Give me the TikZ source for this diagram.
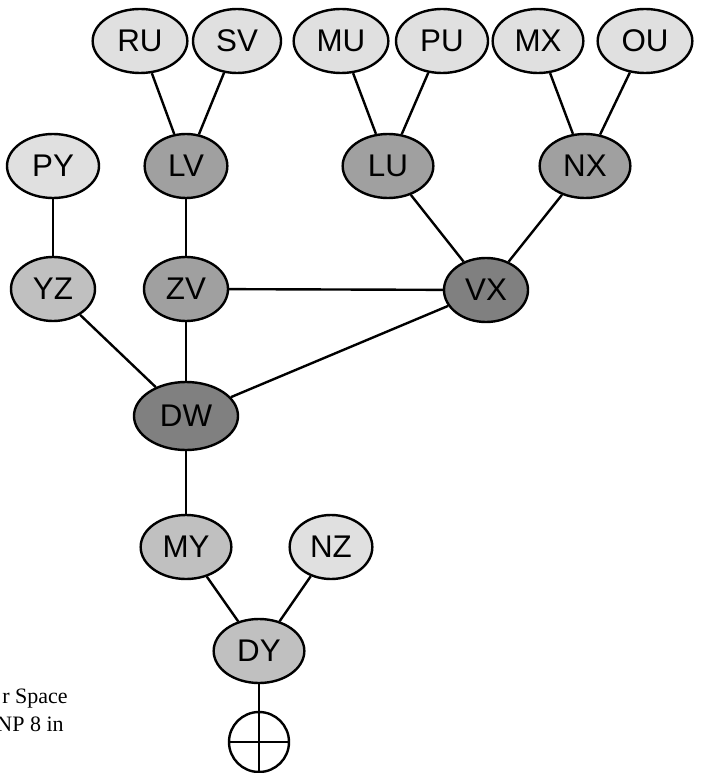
\documentclass[tikz,border=0pt]{standalone}
\usepackage{fontspec}
\setmainfont{Liberation Serif}
\newfontfamily\nodefont{Liberation Sans}
\usepackage{xcolor}
\usetikzlibrary{shapes.geometric}
\definecolor{leafgray}{RGB}{224,224,224}
\definecolor{lowgray}{RGB}{192,192,192}
\definecolor{midgray}{RGB}{160,160,160}
\definecolor{hubgray}{RGB}{128,128,128}
\tikzset{
  base-node/.style={ellipse, draw=black, line width=1.8pt, minimum width=68pt,
    minimum height=48pt, inner sep=0pt, font=\nodefont\fontsize{23.5}{26}\selectfont},
  leaf-node/.style={base-node, fill=leafgray},
  low-node/.style={base-node, fill=lowgray},
  mid-node/.style={base-node, fill=midgray},
  hub-node/.style={base-node, fill=hubgray},
  sink-node/.style={circle, draw=black, line width=1.8pt, minimum size=45pt, inner sep=0pt},
  link-line/.style={line width=1.8pt, draw=black},
  note-text/.style={font=\fontsize{16.5}{19}\selectfont, inner sep=0pt, anchor=base east}
}

\begin{document}
\begin{tikzpicture}[x=0.75pt, y=-0.75pt]
\useasboundingbox (0,0) rectangle (702,773);
\clip (0,0) rectangle (702,773);

% Top row
\node[leaf-node, minimum width=71pt] (RU) at (140,41) {RU};
\node[leaf-node, minimum width=66pt] (SV) at (237,41) {SV};
\node[leaf-node, minimum width=71pt] (MU) at (341,41) {MU};
\node[leaf-node, minimum width=69pt] (PU) at (442,41) {PU};
\node[leaf-node] (MX) at (538,41) {MX};
\node[leaf-node, minimum width=71pt] (OU) at (645,41) {OU};

% Second row
\node[leaf-node, minimum width=69pt] (PY) at (53,166) {PY};
\node[mid-node, minimum width=62pt] (LV) at (186,166) {LV};
\node[mid-node] (LU) at (388,166) {LU};
\node[mid-node] (NX) at (585,166) {NX};

% Third row
\node[low-node, minimum width=63pt] (YZ) at (53,289) {YZ};
\node[mid-node, minimum width=63pt] (ZV) at (186,289) {ZV};
\node[hub-node, minimum width=63pt] (VX) at (486,290) {VX};

% Centre
\node[hub-node, minimum width=78pt, minimum height=51pt] (DW) at (186,416) {DW};

% Lower part
\node[low-node] (MY) at (186,547) {MY};
\node[leaf-node, minimum width=62pt] (NZ) at (331,547) {NZ};
\node[low-node] (DY) at (259,651) {DY};
\node[sink-node] (sink) at (259,742) {};
\coordinate (bottom) at (259,773);

% Edges
\draw[link-line] (RU) -- (LV);
\draw[link-line] (SV) -- (LV);
\draw[link-line] (MU) -- (LU);
\draw[link-line] (PU) -- (LU);
\draw[link-line] (MX) -- (NX);
\draw[link-line] (OU) -- (NX);
\draw[link-line] (PY) -- (YZ);
\draw[link-line] (LV) -- (ZV);
\draw[link-line] (LU) -- (VX);
\draw[link-line] (NX) -- (VX);
\draw[link-line] (ZV) -- (VX);
\draw[link-line] (YZ) -- (DW);
\draw[link-line] (ZV) -- (DW);
\draw[link-line] (VX) -- (DW);
\draw[link-line] (DW) -- (MY);
\draw[link-line] (MY) -- (DY);
\draw[link-line] (NZ) -- (DY);
\draw[link-line] (DY) -- (bottom);
\draw[link-line] (sink.west) -- (sink.east);

% Side note
\node[note-text] (note1) at (68,703) {r Space};
\node[note-text] (note2) at (64,731) {NP 8 in};
\end{tikzpicture}
\end{document}
